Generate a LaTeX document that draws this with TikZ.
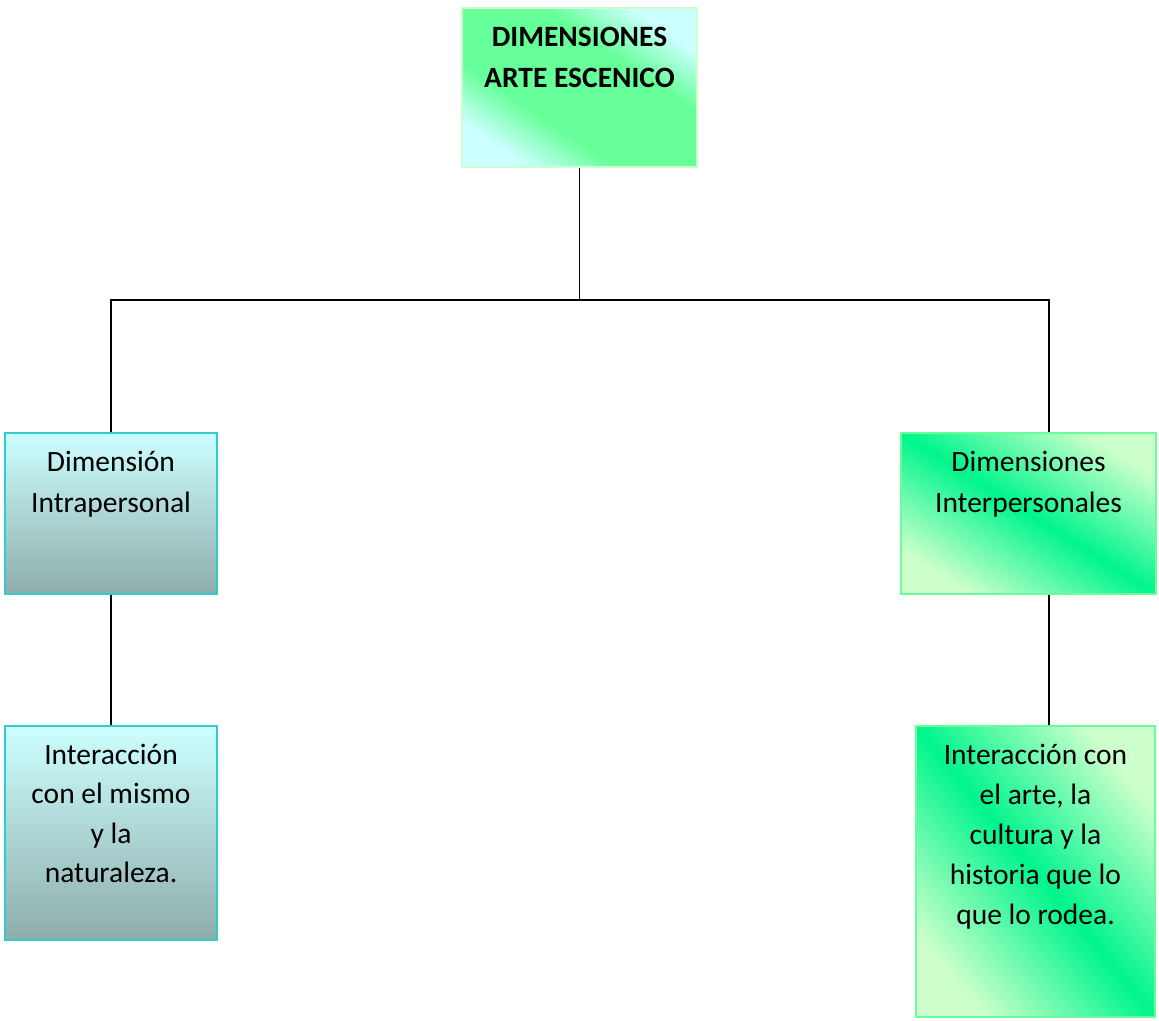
\documentclass[tikz,border=0pt]{standalone}
\usepackage{fontspec}
\setmainfont{Carlito}
\definecolor{cyanlt}{HTML}{CCFFFF}
\definecolor{grnmid}{HTML}{66FF99}
\definecolor{grnlt}{HTML}{CCFFCC}
\definecolor{grnbr}{HTML}{00F58C}
\definecolor{tealdk}{HTML}{8EADAA}
\definecolor{turq}{HTML}{33CCCC}
\definecolor{grnedge}{HTML}{66FF99}
\definecolor{topedge}{HTML}{CCFFCC}
\pgfdeclarehorizontalshading{topshade}{100bp}{color(0bp)=(cyanlt); color(25bp)=(cyanlt); color(38bp)=(grnmid); color(62bp)=(grnmid); color(75bp)=(cyanlt); color(100bp)=(cyanlt)}
\pgfdeclarehorizontalshading{rightshade}{100bp}{color(0bp)=(grnlt); color(25bp)=(grnlt); color(50bp)=(grnbr); color(75bp)=(grnlt); color(100bp)=(grnlt)}
\newcommand\firstline{\rule{0pt}{30pt}}
\begin{document}
\begin{tikzpicture}[x=1pt,y=-1pt,
  boxbase/.style={draw, line width=1.5pt, inner sep=0pt},
  topbox/.style={boxbase, draw=topedge, shading=topshade},
  leftbox/.style={boxbase, draw=turq, top color=cyanlt, bottom color=tealdk},
  rightbox/.style={boxbase, draw=grnedge, shading=rightshade},
  txt/.style={anchor=north, inner sep=0pt, align=center, yshift=-9pt, font=\fontsize{29.5}{41}\selectfont},
  conn/.style={draw=black, line width=1.2pt}]
\useasboundingbox (0,0) rectangle (1159,1020);
\node[topbox, shading angle=55.9, minimum width=235pt, minimum height=159pt] (top) at (579.5,87.5) {};
\node[leftbox, minimum width=212pt, minimum height=161pt] (left) at (111,513.5) {};
\node[rightbox, shading angle=57.7, minimum width=255pt, minimum height=161pt] (right) at (1028.5,513.5) {};
\node[leftbox, minimum width=212pt, minimum height=214pt] (lbot) at (111,833) {};
\node[rightbox, shading angle=39.4, minimum width=239pt, minimum height=291pt] (rbot) at (1035.5,871.5) {};
\node[txt, font=\fontsize{29.5}{41}\selectfont\bfseries] (toptxt) at (top.north) {\firstline DIMENSIONES\\ARTE ESCENICO};
\node[txt] (lefttxt) at (left.north) {\firstline Dimensión\\Intrapersonal};
\node[txt] (righttxt) at (right.north) {\firstline Dimensiones\\Interpersonales};
\node[txt, font=\fontsize{29.5}{39.5}\selectfont] (lbottxt) at (lbot.north) {\firstline Interacción\\con el mismo\\y la\\naturaleza.};
\node[txt, font=\fontsize{29.5}{40}\selectfont] (rbottxt) at (rbot.north) {\firstline Interacción con\\el arte, la\\cultura y la\\historia que lo\\que lo rodea.};
\coordinate (busR) at (1049,300);
\draw[conn] (top.south) -- (top.south |- busR);
\draw[conn] (left.north) |- (busR) -- (busR |- right.north);
\draw[conn] (left.south) -- (lbot.north);
\draw[conn] (busR |- right.south) -- (busR |- rbot.north);
\end{tikzpicture}
\end{document}
